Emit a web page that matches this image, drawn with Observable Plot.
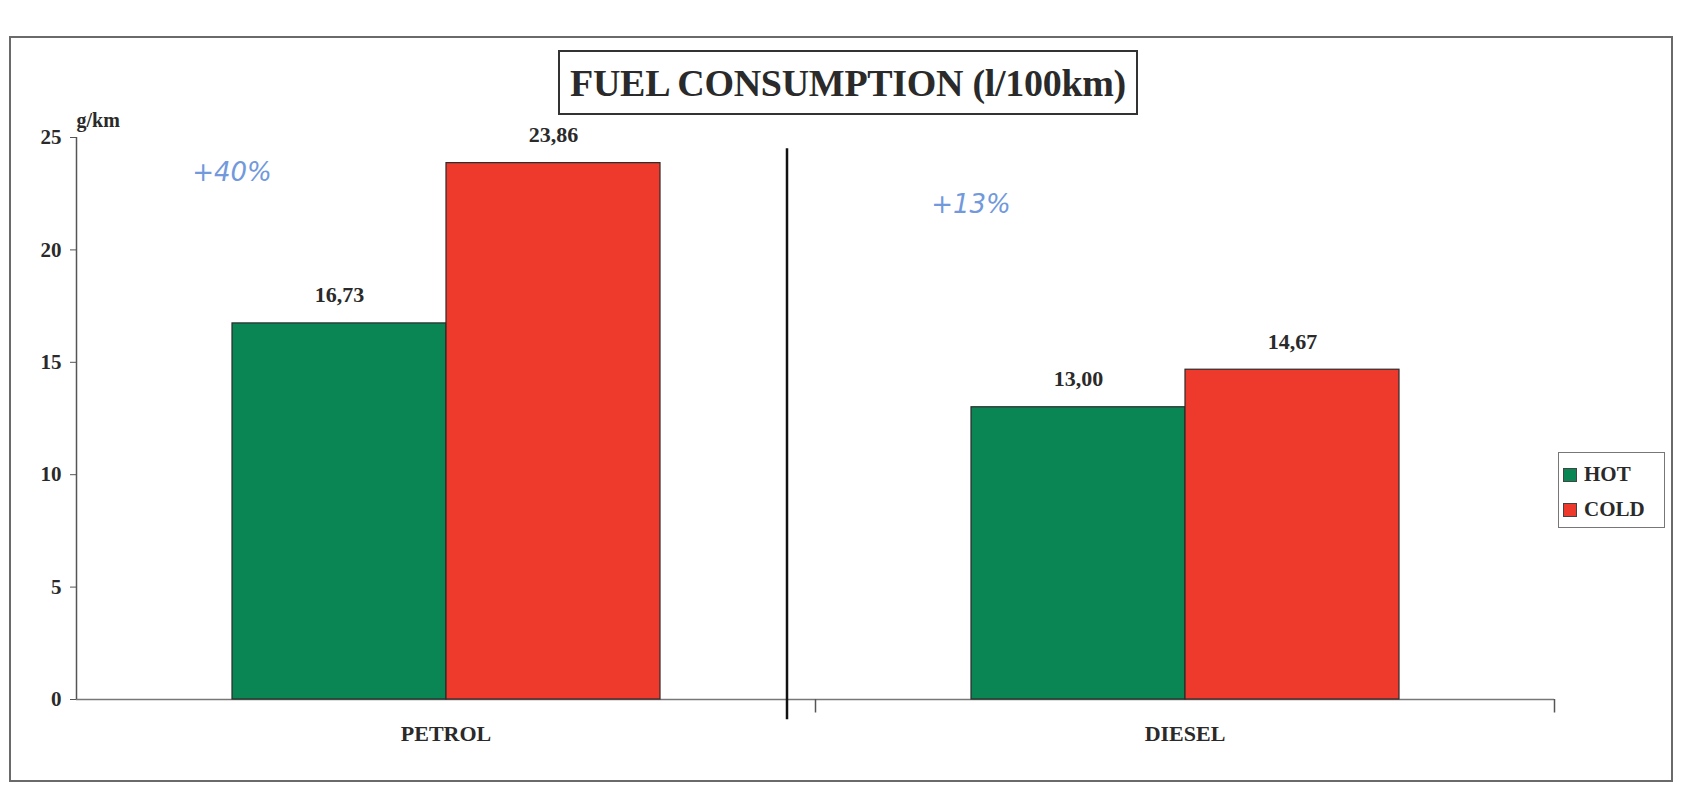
<!DOCTYPE html>
<html>
<head>
<meta charset="utf-8">
<script src="https://cdn.jsdelivr.net/npm/d3@7"></script>
<script src="https://cdn.jsdelivr.net/npm/@observablehq/plot@0.6"></script>
<style>
  html, body { margin: 0; padding: 0; background: #fff; }
  #wrap { position: relative; width: 1689px; height: 794px; overflow: hidden; font-family: "Liberation Serif", "Times New Roman", serif; }
  #frame { position: absolute; left: 9px; top: 36px; width: 1664px; height: 746px; border: 2px solid #6a6a6a; box-sizing: border-box; }
  #title { position: absolute; left: 558px; top: 50px; width: 580px; height: 65px; border: 2.5px solid #333; box-sizing: border-box;
           display: flex; align-items: center; justify-content: center; font-weight: bold; font-size: 38px; color: #2a2a2a; letter-spacing: -0.3px; white-space: nowrap; }
  #legend { position: absolute; left: 1558px; top: 452px; width: 107px; height: 76px; border: 1.5px solid #777; box-sizing: border-box;
            padding: 4px 0 0 4px; font-weight: bold; font-size: 21px; color: #2a2a2a; }
  #legend .row { display: flex; align-items: center; height: 35px; }
  #legend .sw { width: 14px; height: 14px; margin-right: 7px; border: 1px solid #444; box-sizing: border-box; flex: none; }
  #chart { position: absolute; left: 0; top: 0; }
</style>
</head>
<body>
<div id="wrap">
  <div id="frame"></div>
  <div id="chart"></div>
  <div id="title"></div>
  <div id="legend"></div>
</div>
<script>
// ---- data ----
const titleText = "FUEL CONSUMPTION (l/100km)";
const unitLabel = "g/km";
const categories = ["PETROL", "DIESEL"];
const series = ["HOT", "COLD"];
const hotValues = [16.73, 13.00];
const coldValues = [23.86, 14.67];
const yTicks = [0, 5, 10, 15, 20, 25];
const notes = ["+40%", "+13%"];
const noteLevels = [23.4, 22.0];
const seriesColors = ["#0a8655", "#ee3a2d"];

const data = categories.flatMap((c, i) => [
  {fuel: c, cond: "HOT", value: hotValues[i]},
  {fuel: c, cond: "COLD", value: coldValues[i]}
]);
const noteData = categories.map((c, i) => ({fuel: c, cond: "HOT", text: notes[i], level: noteLevels[i]}));
const fmt = v => d3.format(".2f")(v).replace(".", ",");

document.getElementById("title").textContent = titleText;
const legend = document.getElementById("legend");
series.forEach((s, i) => {
  const row = document.createElement("div");
  row.className = "row";
  const sw = document.createElement("div");
  sw.className = "sw";
  sw.style.background = seriesColors[i];
  const t = document.createElement("span");
  t.textContent = s;
  row.append(sw, t);
  legend.append(row);
});

const font = {fontFamily: "Liberation Serif", fontWeight: "bold", fill: "#2a2a2a"};

const chart = Plot.plot({
  width: 1689,
  height: 794,
  marginTop: 137,
  marginBottom: 95,
  marginLeft: 75,
  marginRight: 135,
  style: {fontFamily: "Liberation Serif", background: "transparent", overflow: "visible"},
  fx: {domain: categories, padding: 0, label: null, axis: null},
  x: {domain: series, paddingInner: 0, paddingOuter: 0.72, axis: null},
  y: {domain: [0, 25], axis: null},
  color: {domain: series, range: seriesColors},
  marks: [
    Plot.ruleY([0], {stroke: "#777", strokeWidth: 1.5}),
    Plot.barY(data, {fx: "fuel", x: "cond", y: "value", fill: "cond", stroke: "#2a2a2a", strokeWidth: 1.2}),
    Plot.text(data, {fx: "fuel", x: "cond", y: "value", text: d => fmt(d.value), dy: -28, fontSize: 22, ...font}),
    // y axis line (left edge of first panel)
    Plot.ruleX([{fuel: "PETROL"}], {fx: "fuel", x: null, y1: 0, y2: 25, dx: -369.5, stroke: "#555", strokeWidth: 1.5}),
    // small category-boundary ticks on the x axis
    Plot.ruleX(categories.map(c => ({fuel: c})), {fx: "fuel", x: null, y1: 0, y2: -0.6, dx: 369.5, stroke: "#555", strokeWidth: 1.5}),
    // vertical divider between PETROL and DIESEL
    Plot.ruleX([{fuel: "DIESEL"}], {fx: "fuel", x: null, y1: -0.9, y2: 24.5, dx: -398, stroke: "#111", strokeWidth: 2.5}),
    Plot.axisY({ticks: yTicks, tickSize: 6, tickPadding: 9, fontSize: 21, label: null, ...font, stroke: "#555"}),
    Plot.text([{fuel: "PETROL"}], {fx: "fuel", frameAnchor: "top-left", text: () => unitLabel, dx: 0, dy: -25, fontSize: 20, textAnchor: "start", ...font}),
    Plot.axisFx({anchor: "bottom", tickSize: 0, tickPadding: 26, fontSize: 22, label: null, ...font}),
    Plot.text(noteData, {fx: "fuel", x: "cond", y: "level", text: "text", dx: [-109, -11], fontSize: 26, fontStyle: "italic", fontFamily: "DejaVu Sans", fill: "#7199dc", fontWeight: "normal"})
  ]
});
document.getElementById("chart").append(chart);
</script>
</body>
</html>
